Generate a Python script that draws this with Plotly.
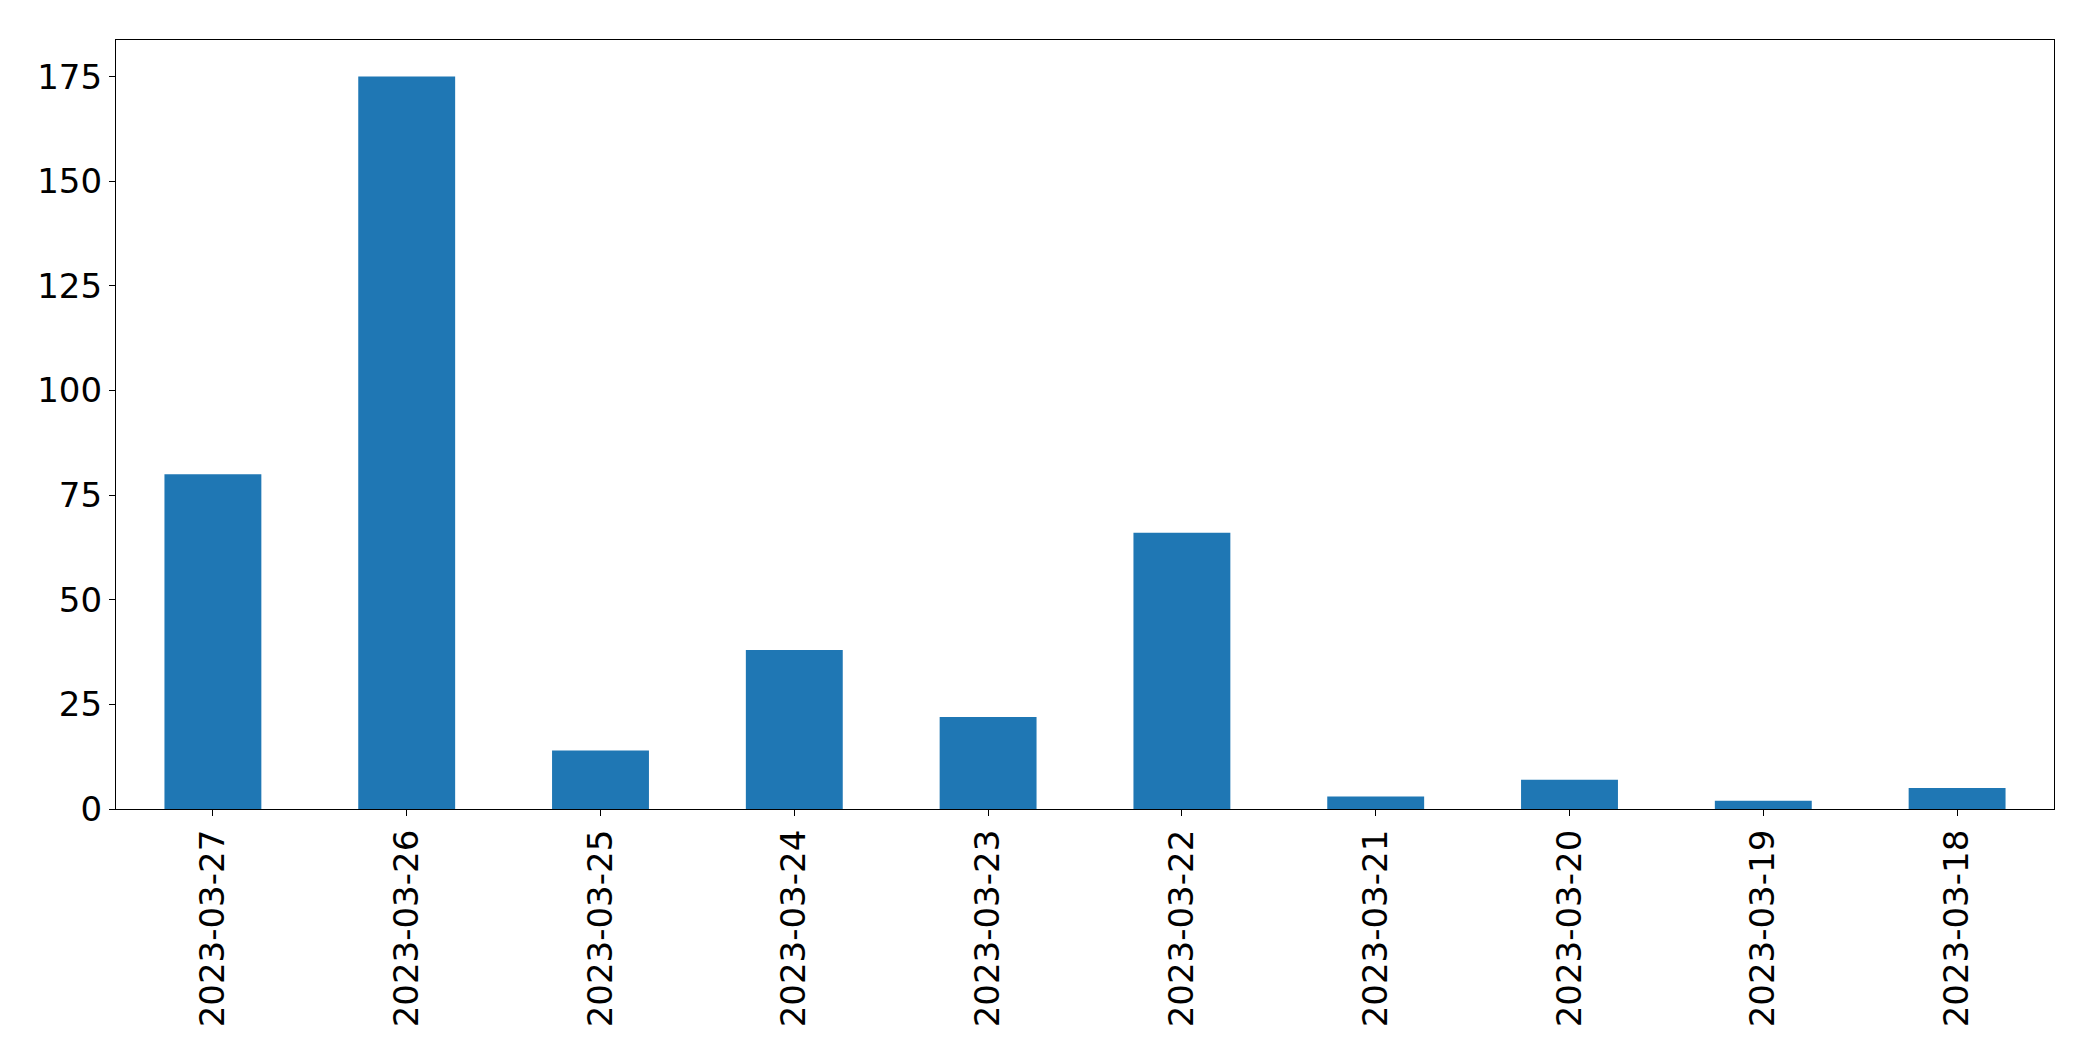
import plotly.graph_objects as go

dates = ["2023-03-27", "2023-03-26", "2023-03-25", "2023-03-24", "2023-03-23",
         "2023-03-22", "2023-03-21", "2023-03-20", "2023-03-19", "2023-03-18"]
counts = [80, 175, 14, 38, 22, 66, 3, 7, 2, 5]
y_ticks = [0, 25, 50, 75, 100, 125, 150, 175]

fig = go.Figure(go.Bar(x=dates, y=counts, marker_color="#1f77b4",
                       marker_line_width=0, width=0.5))

font = dict(family="DejaVu Sans", size=34, color="black")
fig.update_layout(
    width=2085, height=1053,
    margin=dict(l=108, r=39, t=32, b=252),
    plot_bgcolor="white", paper_bgcolor="white",
    showlegend=False,
    font=font,
)
fig.update_xaxes(type="category", range=[-0.5, 9.5], tickangle=-90,
                 showline=True, linecolor="black", linewidth=1.3, mirror=True,
                 ticks="outside", ticklen=6, tickcolor="black", tickwidth=1,
                 showgrid=False, zeroline=False, tickfont=font)
fig.update_yaxes(range=[0, 183.75], tickvals=y_ticks,
                 showline=True, linecolor="black", linewidth=1.3, mirror=True,
                 ticks="outside", ticklen=6, tickcolor="black", tickwidth=1,
                 showgrid=False, zeroline=False, tickfont=font)

fig.write_html("out.html")
